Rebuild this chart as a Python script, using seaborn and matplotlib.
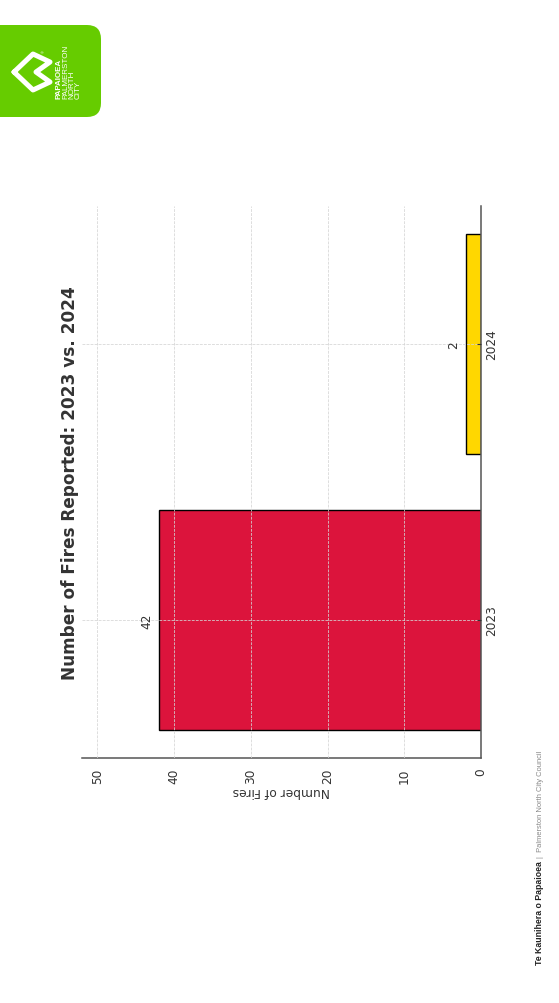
import numpy as np
import pandas as pd
import seaborn as sns
import matplotlib.pyplot as plt
from matplotlib.patches import FancyBboxPatch

# Datos del grafico
years = ['2023', '2024']
fires = [42, 2]
bar_colors = ['#DC143C', '#FFD700']
value_ticks = [0, 10, 20, 30, 40, 50]

df = pd.DataFrame({'year': years, 'fires': fires})

sns.set_style('white')
plt.rcParams['font.family'] = ['DejaVu Sans']

fig = plt.figure(figsize=(5.59, 10.04), dpi=100)

# ---------------- fondo de pagina: logo y pie ----------------
page = fig.add_axes([0, 0, 1, 1])
page.set_xlim(0, 559)
page.set_ylim(1004, 0)
page.axis('off')

logo = FancyBboxPatch((-20, 26), 121, 92, boxstyle='round,pad=0,rounding_size=14',
                      facecolor='#66CC00', edgecolor='none')
page.add_patch(logo)
chev_x = [14, 33, 50, 36, 50, 33, 14]
chev_y = [73, 55, 63, 73, 83, 91, 73]
page.plot(chev_x, chev_y, color='white', lw=3.6, solid_joinstyle='round',
          solid_capstyle='round')
page.text(41, 53, '®', color='white', fontsize=3, ha='center', va='center')
for xx, word, w in [(59, 'PAPAIOEA', 'bold'), (65.5, 'PALMERSTON', 'normal'),
                    (72, 'NORTH', 'normal'), (78.5, 'CITY', 'normal')]:
    page.text(xx, 99, word, color='white', fontsize=5.8, weight=w, rotation=90,
              rotation_mode='anchor', ha='left', va='center',
              family='Liberation Sans')

# pie de pagina, la segunda parte va justo despues de la primera
t1 = page.text(540, 965, 'Te Kaunihera o Papaioea', color='#222222',
               fontsize=6.3, weight='bold', rotation=90, rotation_mode='anchor',
               ha='left', va='center', family='Liberation Sans')
renderer = fig.canvas.get_renderer()
bb = t1.get_window_extent(renderer)
y_next = 1004 - bb.y1 - 3
page.text(540, y_next, '|  Palmerston North City Council', color='#888888',
          fontsize=5.4, rotation=90, rotation_mode='anchor', ha='left',
          va='center', family='Liberation Sans')

# ---------------- grafico (girado 90 grados) ----------------
ax = fig.add_axes([82 / 559, 1 - 759 / 1004, 399 / 559, 552 / 1004])
sns.barplot(data=df, x='fires', y='year', hue='year', palette=bar_colors,
            orient='h', width=0.8, saturation=1, edgecolor='black',
            linewidth=1, legend=False, ax=ax)

ax.set_xlim(52, 0)
ax.set_ylim(-0.5, 1.5)
ax.set_xticks(value_ticks)
ax.set_xticklabels([str(v) for v in value_ticks], rotation=90)
ax.yaxis.tick_right()
ax.set_yticks(range(len(years)))
ax.set_yticklabels(years, rotation=90, va='center')

ax.grid(True, linestyle='--', color='#d4d4d4', linewidth=0.55)
ax.set_axisbelow(False)

for side in ['top', 'left']:
    ax.spines[side].set_visible(False)
for side in ['bottom', 'right']:
    ax.spines[side].set_color('#555555')
    ax.spines[side].set_linewidth(1.1)

ax.tick_params(axis='x', direction='out', length=4, color='#555555',
               labelsize=8.7, labelcolor='#333333', pad=3)
ax.tick_params(axis='y', direction='in', length=3, color='#333333',
               labelsize=8.7, labelcolor='#333333', pad=3)

ax.set_xlabel('Number of Fires', rotation=180, fontsize=8.8, color='#333333',
              labelpad=1)
ax.set_ylabel('')

# etiquetas de valor al final de cada barra
for i, v in enumerate(fires):
    ax.annotate(str(v), (v, i), xytext=(-4, 0), textcoords='offset points',
                rotation=90, ha='right', va='center', fontsize=8.7,
                color='#333333')

fig.text(70 / 559, 1 - 483 / 1004, 'Number of Fires Reported: 2023 vs. 2024',
         rotation=90, ha='center', va='center', fontsize=12.2, weight='bold',
         color='#333333')

plt.savefig('out.png', dpi=100)
